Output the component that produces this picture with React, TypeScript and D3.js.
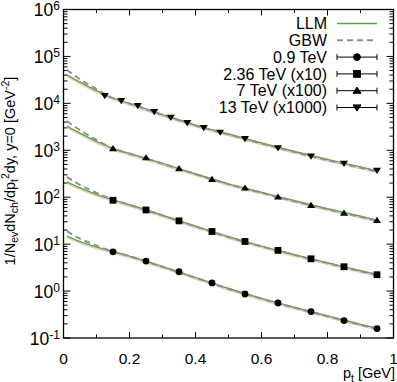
import React from 'react';
import * as d3 from 'd3';

// measured points (ALICE/CMS style bins), scaled as in the legend
const binCenters = [0.15, 0.25, 0.35, 0.45, 0.55, 0.65, 0.75, 0.85, 0.95];
const binCenters13 = [0.125, 0.175, 0.225, 0.275, 0.325, 0.375, 0.425, 0.475, 0.55, 0.65, 0.75, 0.85, 0.95];
const data09 = [6.86, 4.35, 2.58, 1.49, 0.867, 0.558, 0.366, 0.235, 0.159];
const data236 = [86, 53.5, 31.3, 18.6, 11.4, 7.35, 4.87, 3.3, 2.23];
const data7 = [1090, 693, 405, 240, 157, 101, 67, 46, 32];
const data13 = [14560, 11400, 8930, 6670, 5050, 3890, 3050, 2420, 1780, 1130, 750, 525, 372];

// model curves
const curvePt = [0.01, 0.05, 0.1, 0.15, 0.2, 0.3, 0.4, 0.5, 0.6, 0.7, 0.8, 0.9, 0.95];
const llm09 = [14.8, 11.3, 8.63, 6.93, 5.56, 3.33, 1.94, 1.135, 0.697, 0.449, 0.296, 0.195, 0.161];
const llm236 = [212, 158, 115, 88.1, 69.0, 41.3, 24.1, 14.4, 9.07, 5.98, 4.01, 2.71, 2.25];
const llm7 = [3280, 2330, 1540, 1090, 855, 525, 314, 193, 127, 83.9, 56.8, 39.3, 32.4];
const llm13 = [40600, 28200, 18600, 12900, 9950, 5760, 3440, 2220, 1430, 944, 638, 442, 364];
const gbw09 = [18.9, 13.1, 9.32, 6.95, 5.56, 3.3, 1.93, 1.12, 0.69, 0.444, 0.292, 0.192, 0.158];
const gbw236 = [271, 183, 124, 88.5, 69, 41, 23.9, 14.2, 8.95, 5.9, 3.95, 2.66, 2.2];
const gbw7 = [4200, 2700, 1660, 1095, 855, 520, 312, 190, 125, 82, 55.5, 38.2, 31.5];
const gbw13 = [52000, 32700, 20100, 12950, 9950, 5700, 3400, 2180, 1400, 920, 615, 425, 350];

const legendLabels = ['LLM', 'GBW', '0.9 TeV', '2.36 TeV (x10)', '7 TeV (x100)', '13 TeV (x1000)'];
const yDecades = [-1, 0, 1, 2, 3, 4, 5, 6];
const xTicks = [0, 0.2, 0.4, 0.6, 0.8, 1];

const W = 397, H = 382;
const left = 63.5, right = 393.5, top = 9.5, bottom = 338;
const FONT = '"Liberation Sans", Arial, sans-serif';
const GREEN = '#55a341';
const GREY = '#8f8f8f';

type Shape = 'circle' | 'square' | 'up' | 'down';

const Marker = ({ x, y, shape }: { x: number; y: number; shape: Shape }) => {
  if (shape === 'circle') return <circle cx={x} cy={y} r={3.4} fill="#000" />;
  if (shape === 'square') return <rect x={x - 3.4} y={y - 3.4} width={6.8} height={6.8} fill="#000" />;
  if (shape === 'up') return <path d={`M${x - 4},${y + 2.6}L${x + 4},${y + 2.6}L${x},${y - 3.6}Z`} fill="#000" />;
  return <path d={`M${x - 4},${y - 2.6}L${x + 4},${y - 2.6}L${x},${y + 3.6}Z`} fill="#000" />;
};

export default function App() {
  const x = d3.scaleLinear().domain([0, 1]).range([left, right]);
  const y = d3.scaleLog().domain([0.1, 1e6]).range([bottom, top]);

  const line = d3
    .line<[number, number]>()
    .x((d) => x(d[0]))
    .y((d) => y(d[1]))
    .curve(d3.curveMonotoneX);

  const llm = [llm09, llm236, llm7, llm13];
  const gbw = [gbw09, gbw236, gbw7, gbw13];
  const sets: { xs: number[]; ys: number[]; shape: Shape }[] = [
    { xs: binCenters, ys: data09, shape: 'circle' },
    { xs: binCenters, ys: data236, shape: 'square' },
    { xs: binCenters, ys: data7, shape: 'up' },
    { xs: binCenters13, ys: data13, shape: 'down' },
  ];

  const minorY: number[] = [];
  for (let k = -1; k < 6; k++) for (let m = 2; m <= 9; m++) minorY.push(m * Math.pow(10, k));
  const minorX = d3.range(1, 10, 2).map((i) => i / 10);

  const lx0 = 337, lx1 = 377, lxt = 327;
  const ly = (i: number) => 23.5 + i * 16.8;

  return (
    <svg width={W} height={H} style={{ position: 'absolute', left: 0, top: 0 }} fontFamily={FONT}>
      <rect width={W} height={H} fill="#fff" />

      {/* ticks */}
      <g stroke="#000" strokeWidth={1}>
        {yDecades.map((k) => (
          <g key={'yd' + k}>
            <line x1={left} x2={left + 7} y1={y(Math.pow(10, k))} y2={y(Math.pow(10, k))} />
            <line x1={right} x2={right - 7} y1={y(Math.pow(10, k))} y2={y(Math.pow(10, k))} />
          </g>
        ))}
        {minorY.map((v, i) => (
          <g key={'ym' + i}>
            <line x1={left} x2={left + 4} y1={y(v)} y2={y(v)} />
            <line x1={right} x2={right - 4} y1={y(v)} y2={y(v)} />
          </g>
        ))}
        {xTicks.map((t) => (
          <g key={'xt' + t}>
            <line x1={x(t)} x2={x(t)} y1={bottom} y2={bottom - 6} />
            <line x1={x(t)} x2={x(t)} y1={top} y2={top + 6} />
          </g>
        ))}
        {minorX.map((t) => (
          <g key={'xm' + t}>
            <line x1={x(t)} x2={x(t)} y1={bottom} y2={bottom - 3.5} />
            <line x1={x(t)} x2={x(t)} y1={top} y2={top + 3.5} />
          </g>
        ))}
      </g>

      {/* curves */}
      {llm.map((c, i) => (
        <path key={'band' + i} d={line(curvePt.map((p, j) => [p, c[j]]))!} fill="none"
          stroke="#f2c4a8" strokeWidth={1.3} transform="translate(0,1.6)" />
      ))}
      {llm.map((c, i) => (
        <path key={'llm' + i} d={line(curvePt.map((p, j) => [p, c[j]]))!} fill="none" stroke={GREEN} strokeWidth={1.4} />
      ))}
      {gbw.map((c, i) => (
        <path key={'gbw' + i} d={line(curvePt.map((p, j) => [p, c[j]]))!} fill="none" stroke={GREY}
          strokeWidth={2} strokeDasharray="6,4" />
      ))}

      {/* data points */}
      {sets.map((s, i) => (
        <g key={'s' + i}>
          {s.xs.map((p, j) => (
            <Marker key={j} x={x(p)} y={y(s.ys[j])} shape={s.shape} />
          ))}
        </g>
      ))}

      {/* frame */}
      <rect x={left} y={top} width={right - left} height={bottom - top} fill="none" stroke="#000" strokeWidth={1.3} />

      {/* y tick labels */}
      {yDecades.map((k) => (
        <text key={'yl' + k} x={left - 3.5} y={y(Math.pow(10, k)) + 6.5} textAnchor="end" fontSize={17.5} fill="#000">
          10<tspan fontSize={12} dy={-6}>{k}</tspan>
        </text>
      ))}

      {/* x tick labels */}
      {xTicks.map((t) => (
        <text key={'xl' + t} x={x(t)} y={364} textAnchor="middle" fontSize={15.5} fill="#000">
          {d3.format('~g')(t)}
        </text>
      ))}

      {/* axis titles */}
      <text x={395} y={378} textAnchor="end" fontSize={14.5} fill="#000">
        p<tspan fontSize={10.5} dy={3.5}>t</tspan>
        <tspan dy={-3.5}> [GeV]</tspan>
      </text>
      <text transform="translate(14.5,171) rotate(-90)" textAnchor="middle" fontSize={14.5} fill="#000">
        1/N<tspan fontSize={10.5} dy={3.5}>ev</tspan>
        <tspan dy={-3.5}>dN</tspan>
        <tspan fontSize={10.5} dy={3.5}>ch</tspan>
        <tspan dy={-3.5}>/dp</tspan>
        <tspan fontSize={10.5} dy={3.5}>t</tspan>
        <tspan fontSize={10.5} dy={-9}>2</tspan>
        <tspan dy={5.5}>dy, y=0 [GeV</tspan>
        <tspan fontSize={10.5} dy={-6}>-2</tspan>
        <tspan dy={6}>]</tspan>
      </text>

      {/* legend */}
      {legendLabels.map((lab, i) => (
        <text key={'lg' + i} x={lxt} y={ly(i) + 5.6} textAnchor="end" fontSize={16} fill="#000">
          {lab}
        </text>
      ))}
      <line x1={lx0} x2={lx1} y1={ly(0)} y2={ly(0)} stroke={GREEN} strokeWidth={1.4} />
      <line x1={lx0} x2={lx1} y1={ly(1)} y2={ly(1)} stroke={GREY} strokeWidth={2} strokeDasharray="6,4" />
      {sets.map((s, i) => (
        <g key={'le' + i} stroke="#000" strokeWidth={1}>
          <line x1={lx0} x2={lx1} y1={ly(i + 2)} y2={ly(i + 2)} />
          <line x1={lx0} x2={lx0} y1={ly(i + 2) - 3} y2={ly(i + 2) + 3} />
          <line x1={lx1} x2={lx1} y1={ly(i + 2) - 3} y2={ly(i + 2) + 3} />
          <Marker x={(lx0 + lx1) / 2} y={ly(i + 2)} shape={s.shape} />
        </g>
      ))}
    </svg>
  );
}
